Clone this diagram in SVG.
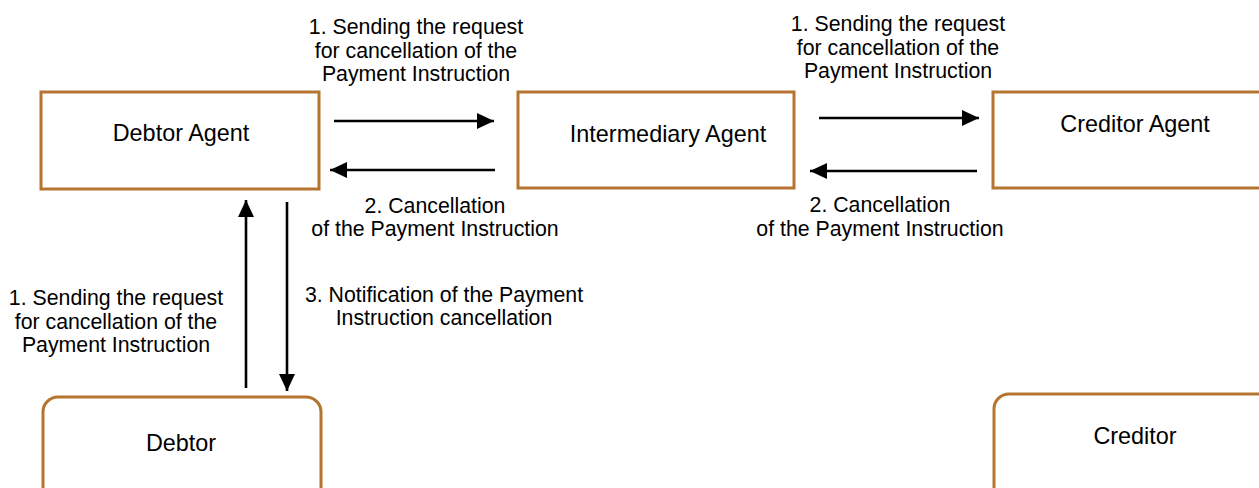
<svg xmlns="http://www.w3.org/2000/svg" width="1259" height="488" viewBox="0 0 1259 488">
<style>
.box{fill:#fff;stroke:#B5742F;stroke-width:3}
.node{font-family:"Liberation Sans",Arial,sans-serif;font-size:23.4px;fill:#000;text-anchor:middle}
.lbl{font-family:"Liberation Sans",Arial,sans-serif;font-size:21.3px;fill:#000;text-anchor:middle}
.conn{stroke:#000;stroke-width:2.6;fill:none;marker-end:url(#ah)}
</style>
<defs>
<marker id="ah" markerUnits="userSpaceOnUse" markerWidth="18" markerHeight="18" viewBox="0 0 18 18" refX="17" refY="9" orient="auto">
<path d="M0,1 L17,9 L0,17 Z" fill="#000"/>
</marker>
</defs>
<rect width="1259" height="488" fill="#fff"/>
<g id="debtor-agent">
<rect class="box" x="41" y="92" width="278" height="97"/>
<text class="node" x="181" y="141">Debtor Agent</text>
</g>
<g id="intermediary-agent">
<rect class="box" x="518" y="92" width="276" height="96"/>
<text class="node" x="668" y="142">Intermediary Agent</text>
</g>
<g id="creditor-agent">
<rect class="box" x="993" y="92" width="290" height="96"/>
<text class="node" x="1135" y="132">Creditor Agent</text>
</g>
<g id="debtor">
<rect class="box" x="43" y="397" width="278" height="120" rx="15" ry="15"/>
<text class="node" x="181" y="451">Debtor</text>
</g>
<g id="creditor">
<rect class="box" x="994" y="394" width="290" height="120" rx="15" ry="15"/>
<text class="node" x="1135" y="444">Creditor</text>
</g>
<g id="connectors">
<line class="conn" x1="334" y1="121" x2="494" y2="121"/>
<line class="conn" x1="495" y1="170" x2="330" y2="170"/>
<line class="conn" x1="819" y1="118" x2="979" y2="118"/>
<line class="conn" x1="977" y1="171" x2="810" y2="171"/>
<line class="conn" x1="246" y1="388" x2="246" y2="200"/>
<line class="conn" x1="287" y1="202" x2="287" y2="391"/>
</g>
<g id="labels">
<text class="lbl" x="416" y="34">1. Sending the request</text>
<text class="lbl" x="416" y="57.5">for cancellation of the</text>
<text class="lbl" x="416" y="81">Payment Instruction</text>
<text class="lbl" x="898" y="31">1. Sending the request</text>
<text class="lbl" x="898" y="54.5">for cancellation of the</text>
<text class="lbl" x="898" y="78">Payment Instruction</text>
<text class="lbl" x="435" y="212.5">2. Cancellation</text>
<text class="lbl" x="435" y="236">of the Payment Instruction</text>
<text class="lbl" x="880" y="212">2. Cancellation</text>
<text class="lbl" x="880" y="235.5">of the Payment Instruction</text>
<text class="lbl" x="116" y="305">1. Sending the request</text>
<text class="lbl" x="116" y="328.5">for cancellation of the</text>
<text class="lbl" x="116" y="352">Payment Instruction</text>
<text class="lbl" x="444" y="302">3. Notification of the Payment</text>
<text class="lbl" x="444" y="325">Instruction cancellation</text>
</g>
</svg>
